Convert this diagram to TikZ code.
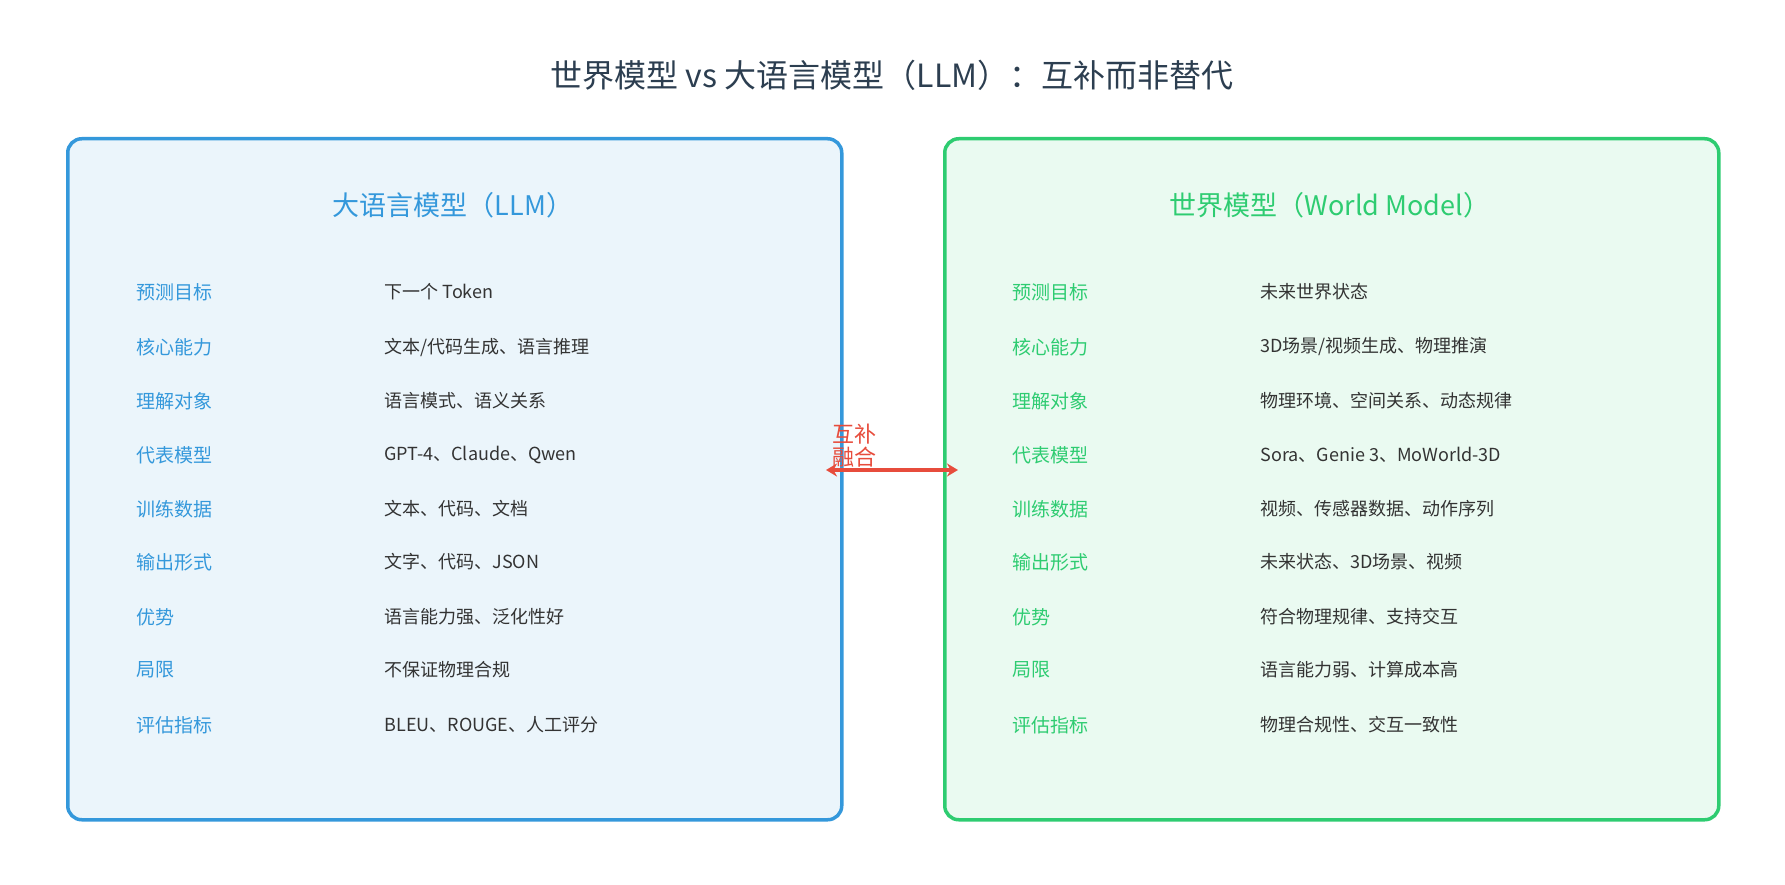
\documentclass[tikz,border=0pt]{standalone}
\usepackage{fontspec}
\setmainfont{Noto Sans CJK SC}
\usetikzlibrary{arrows.meta}
\definecolor{llmblue}{HTML}{3498DB}
\definecolor{wmgreen}{HTML}{2ECC71}
\definecolor{fuse}{HTML}{E74C3C}
\definecolor{ink}{HTML}{2C3E50}
\definecolor{txt}{HTML}{333333}
\tikzset{
  panel/.style={draw, line width=3.5pt, rounded corners=14pt},
  head/.style={font=\fontsize{27}{30}\selectfont},
  key/.style={anchor=west, font=\fontsize{19}{22}\selectfont},
  val/.style={anchor=west, text=txt, font=\fontsize{18}{22}\selectfont}
}
\begin{document}
\begin{tikzpicture}[x=1pt,y=-1pt]
  \useasboundingbox (0,0) rectangle (1785,885);
  \node[text=ink, font=\fontsize{32}{36}\selectfont] (Title) at (892,75) {世界模型 vs 大语言模型（LLM）：互补而非替代};

  \node[panel, draw=llmblue, fill=llmblue!10, minimum width=774pt, minimum height=681pt, anchor=north west]
    (LLMBox) at (66,137) {};
  \node[panel, draw=wmgreen, fill=wmgreen!10, minimum width=774pt, minimum height=681pt, anchor=north west]
    (WMBox) at (943,137) {};
  \node[head, text=llmblue] (LLMHead) at (453,205) {大语言模型（LLM）};
  \node[head, text=wmgreen] (WMHead) at (1330,205) {世界模型（World Model）};

  \foreach \y/\k/\a/\b [count=\i] in {
    292/预测目标/下一个 Token/未来世界状态,
    347/核心能力/文本\slash 代码生成、语言推理/3D场景\slash 视频生成、物理推演,
    401/理解对象/语言模式、语义关系/物理环境、空间关系、动态规律,
    455/代表模型/GPT-4、Claude、Qwen/Sora、Genie 3、MoWorld-3D,
    509/训练数据/文本、代码、文档/视频、传感器数据、动作序列,
    562/输出形式/文字、代码、JSON/未来状态、3D场景、视频,
    617/优势/语言能力强、泛化性好/符合物理规律、支持交互,
    670/局限/不保证物理合规/语言能力弱、计算成本高,
    725/评估指标/BLEU、ROUGE、人工评分/物理合规性、交互一致性} {
    \node[key, text=llmblue] (LK\i) at (133,\y) {\k};
    \node[val] (LV\i) at (381,\y) {\a};
    \node[key, text=wmgreen] (WK\i) at (1009,\y) {\k};
    \node[val] (WV\i) at (1257,\y) {\b};
  }

  \coordinate (FuseL) at (826,470);
  \coordinate (FuseR) at (958,470);
  \draw[fuse, line width=3.5pt, {Stealth[length=11pt,width=13pt]}-{Stealth[length=11pt,width=13pt]}] (FuseL) -- (FuseR);
  \node[text=fuse, align=left, anchor=south west, inner sep=0pt,
    font=\fontsize{22}{23}\selectfont] (FuseText) at (832,467) {互补\\融合};
\end{tikzpicture}
\end{document}
